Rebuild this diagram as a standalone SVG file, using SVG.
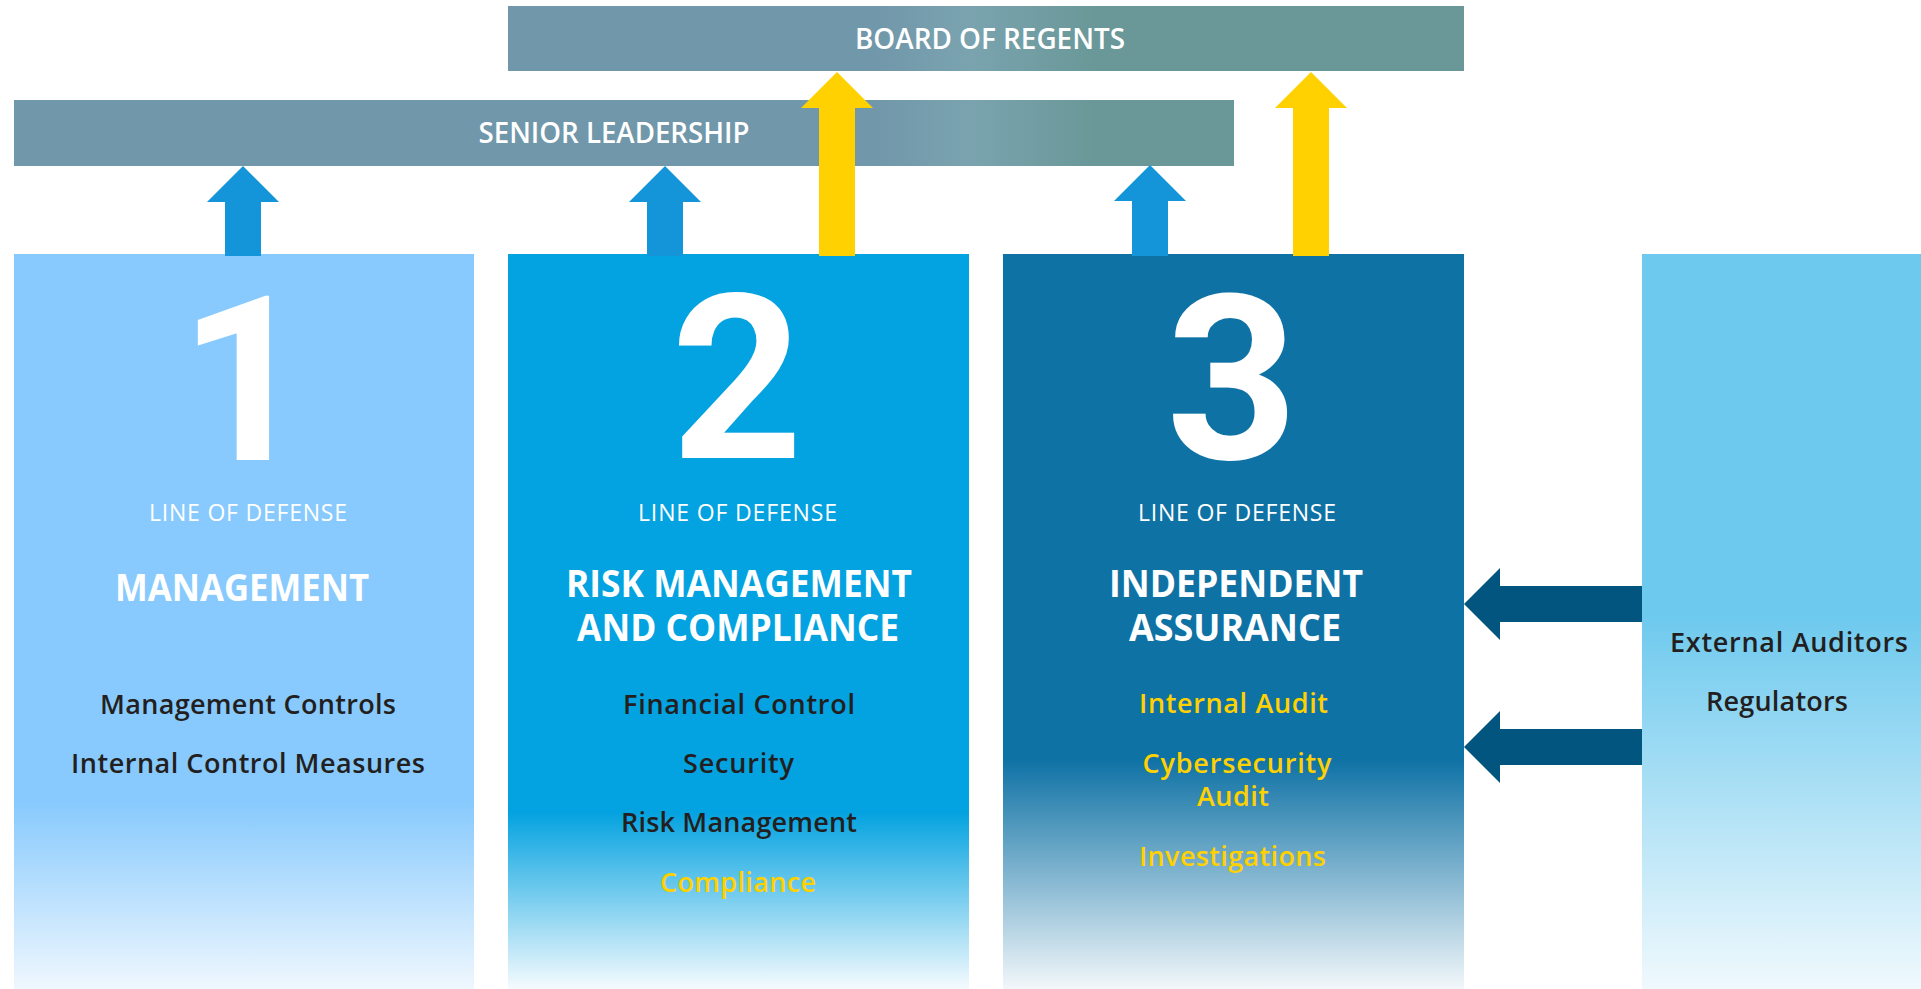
<svg xmlns="http://www.w3.org/2000/svg" width="1921" height="989" viewBox="0 0 1921 989">
  <defs>
    <linearGradient id="barFill" gradientUnits="userSpaceOnUse" x1="0" y1="0" x2="1921" y2="0">
      <stop offset="0" stop-color="#7197AA"/>
      <stop offset="0.455" stop-color="#7197AA"/>
      <stop offset="0.505" stop-color="#7AA3AF"/>
      <stop offset="0.57" stop-color="#6A9898"/>
      <stop offset="1" stop-color="#6A9898"/>
    </linearGradient>
    <linearGradient id="fill1" gradientUnits="userSpaceOnUse" x1="0" y1="254" x2="0" y2="989">
      <stop offset="0" stop-color="#88CAFD"/>
      <stop offset="0.747" stop-color="#88CAFD"/>
      <stop offset="1" stop-color="#EFF7FE"/>
    </linearGradient>
    <linearGradient id="fill2" gradientUnits="userSpaceOnUse" x1="0" y1="254" x2="0" y2="989">
      <stop offset="0" stop-color="#03A2E0"/>
      <stop offset="0.759" stop-color="#03A2E0"/>
      <stop offset="1" stop-color="#F5FBFE"/>
    </linearGradient>
    <linearGradient id="fill3" gradientUnits="userSpaceOnUse" x1="0" y1="254" x2="0" y2="989">
      <stop offset="0" stop-color="#0F72A5"/>
      <stop offset="0.688" stop-color="#0F72A5"/>
      <stop offset="1" stop-color="#F2F7FA"/>
    </linearGradient>
    <linearGradient id="fill4" gradientUnits="userSpaceOnUse" x1="0" y1="254" x2="0" y2="989">
      <stop offset="0" stop-color="#6DC9EE"/>
      <stop offset="0.49" stop-color="#6DC9EE"/>
      <stop offset="1" stop-color="#F0F9FD"/>
    </linearGradient>
  </defs>
  <style>
    .bar-label { font-family: "Open Sans", "Liberation Sans", sans-serif; font-weight: 600; font-size: 29px; fill: #FFFFFF; text-anchor: middle; }
    .digit { font-family: Roboto, "Liberation Sans", Arial, sans-serif; font-weight: 700; font-size: 230px; fill: #FFFFFF; text-anchor: middle; }
    .line { font-family: "Open Sans", "Liberation Sans", sans-serif; font-weight: 400; font-size: 23px; fill: #FFFFFF; text-anchor: middle; }
    .title { font-family: "Open Sans", "Liberation Sans", sans-serif; font-weight: 700; font-size: 37px; fill: #FFFFFF; text-anchor: middle; }
    .item { font-family: "Open Sans", "Liberation Sans", sans-serif; font-weight: 600; font-size: 27px; fill: #231F20; text-anchor: middle; }
    .item.gold { fill: #FFD100; }
    .up-blue { fill: #1495D9; }
    .up-gold { fill: #FFD100; }
    .in-dark { fill: #02557F; }
  </style>

  <!-- governance bars -->
  <g id="board-of-regents">
    <rect x="508" y="6" width="956" height="65" fill="url(#barFill)"/>
    <text class="bar-label" x="990" y="49" textLength="270" lengthAdjust="spacingAndGlyphs">BOARD OF REGENTS</text>
  </g>
  <g id="senior-leadership">
    <rect x="14" y="100" width="1220" height="66" fill="url(#barFill)"/>
    <text class="bar-label" x="614" y="143" textLength="271" lengthAdjust="spacingAndGlyphs">SENIOR LEADERSHIP</text>
  </g>

  <!-- lines of defense -->
  <g id="line-1">
    <rect x="14" y="254" width="460" height="735" fill="url(#fill1)"/>
    <text class="digit" x="245" y="460">1</text>
    <text class="line" x="248" y="521" textLength="198" lengthAdjust="spacing">LINE OF DEFENSE</text>
    <text class="title" x="242" y="601" textLength="254" lengthAdjust="spacingAndGlyphs">MANAGEMENT</text>
    <text class="item" x="248" y="714" textLength="296" lengthAdjust="spacing">Management Controls</text>
    <text class="item" x="248" y="773" textLength="354" lengthAdjust="spacing">Internal Control Measures</text>
  </g>

  <g id="line-2">
    <rect x="508" y="254" width="461" height="735" fill="url(#fill2)"/>
    <text class="digit" x="737" y="458">2</text>
    <text class="line" x="737.5" y="521" textLength="199" lengthAdjust="spacing">LINE OF DEFENSE</text>
    <text class="title" x="739" y="597" textLength="346" lengthAdjust="spacingAndGlyphs">RISK MANAGEMENT</text>
    <text class="title" x="738" y="641" textLength="322" lengthAdjust="spacingAndGlyphs">AND COMPLIANCE</text>
    <text class="item" x="739" y="714" textLength="232" lengthAdjust="spacing">Financial Control</text>
    <text class="item" x="738.5" y="773" textLength="111" lengthAdjust="spacing">Security</text>
    <text class="item" x="739" y="832" textLength="236" lengthAdjust="spacing">Risk Management</text>
    <text class="item gold" x="738" y="892" textLength="156" lengthAdjust="spacing">Compliance</text>
  </g>

  <g id="line-3">
    <rect x="1003" y="254" width="461" height="735" fill="url(#fill3)"/>
    <text class="digit" x="1232" y="459">3</text>
    <text class="line" x="1237" y="521" textLength="198" lengthAdjust="spacing">LINE OF DEFENSE</text>
    <text class="title" x="1236" y="597" textLength="254" lengthAdjust="spacingAndGlyphs">INDEPENDENT</text>
    <text class="title" x="1235" y="641" textLength="212" lengthAdjust="spacingAndGlyphs">ASSURANCE</text>
    <text class="item gold" x="1233.5" y="713" textLength="189" lengthAdjust="spacing">Internal Audit</text>
    <text class="item gold" x="1237" y="773" textLength="189" lengthAdjust="spacing">Cybersecurity</text>
    <text class="item gold" x="1233" y="806" textLength="72" lengthAdjust="spacing">Audit</text>
    <text class="item gold" x="1232.5" y="866" textLength="187" lengthAdjust="spacing">Investigations</text>
  </g>

  <g id="external">
    <rect x="1642" y="254" width="279" height="735" fill="url(#fill4)"/>
    <text class="item" x="1789" y="652" textLength="238" lengthAdjust="spacing">External Auditors</text>
    <text class="item" x="1777" y="711" textLength="142" lengthAdjust="spacing">Regulators</text>
  </g>

  <!-- reporting and assurance arrows -->
  <g id="connectors">
    <polygon class="up-blue" points="225,256 225,202 207,202 243,166 279,202 261,202 261,256"/>
    <polygon class="up-blue" points="647,256 647,202 629,202 665,166 701,202 683,202 683,256"/>
    <polygon class="up-blue" points="1132,256 1132,201 1114,201 1150,165 1186,201 1168,201 1168,256"/>
    <polygon class="up-gold" points="819,256 819,108 801,108 837,72 873,108 855,108 855,256"/>
    <polygon class="up-gold" points="1293,256 1293,108 1275,108 1311,72 1347,108 1329,108 1329,256"/>
    <polygon class="in-dark" points="1642,586 1500,586 1500,568 1464,604 1500,640 1500,622 1642,622"/>
    <polygon class="in-dark" points="1642,729 1500,729 1500,711 1464,747 1500,783 1500,765 1642,765"/>
  </g>
</svg>
